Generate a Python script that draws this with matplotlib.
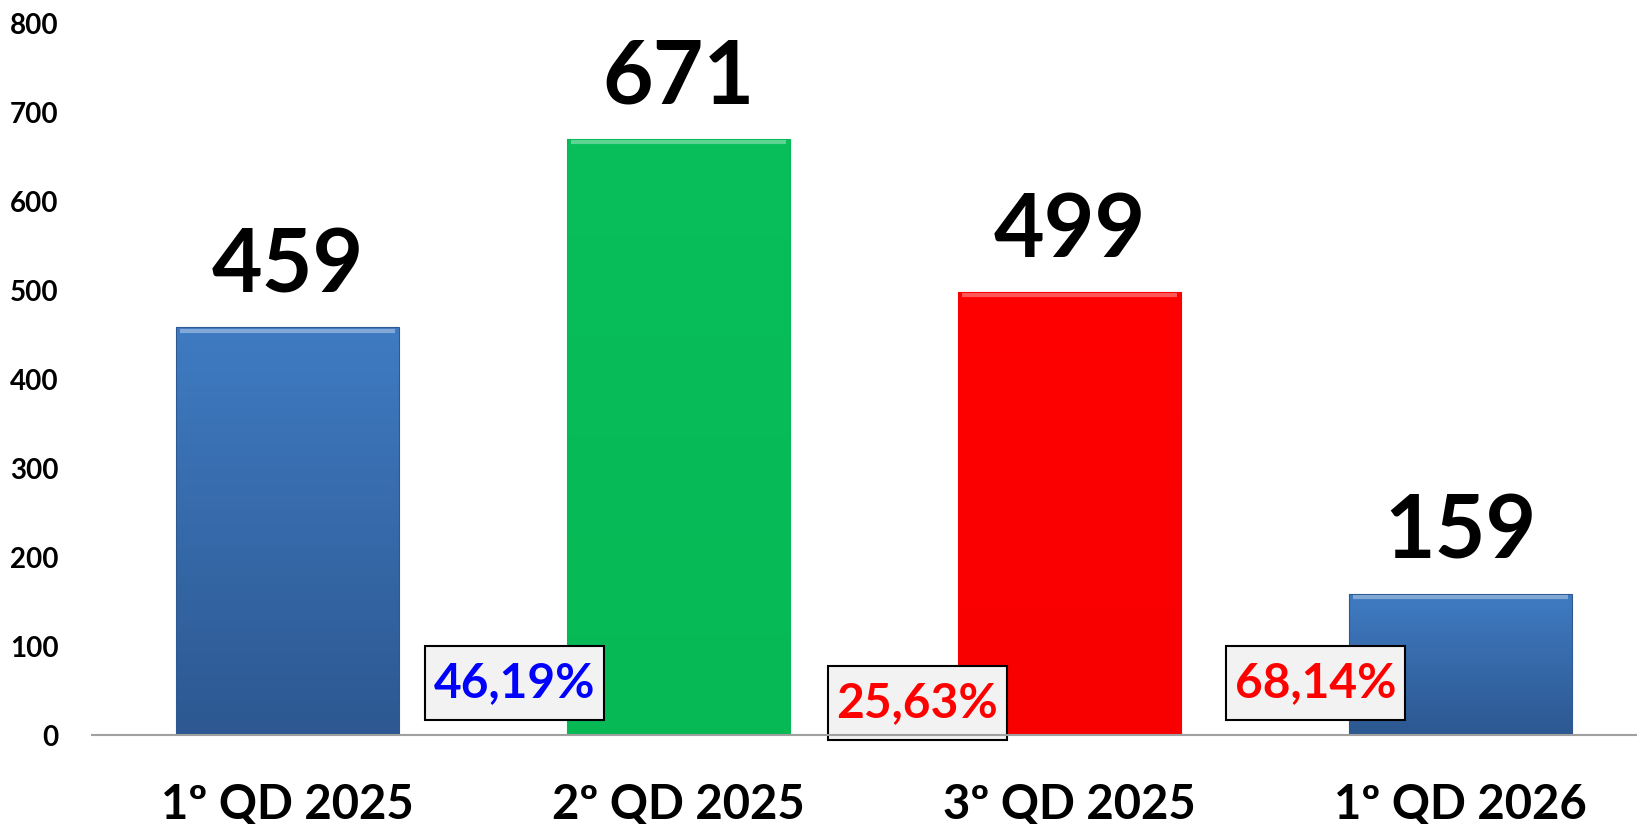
import matplotlib
matplotlib.use("Agg")
import matplotlib.pyplot as plt
import numpy as np
from matplotlib.colors import LinearSegmentedColormap
from matplotlib.path import Path

plt.rcParams["font.family"] = ["Lato", "DejaVu Sans"]
plt.rcParams["font.weight"] = "bold"

# dados
categories = ["1º QD 2025", "2º QD 2025", "3º QD 2025", "1º QD 2026"]
values = [459, 671, 499, 159]
bar_top_colors = ["#3F7BC2", "#08BF5B", "#FF0000", "#3F7BC2"]
bar_bottom_colors = ["#2D5891", "#06B955", "#F80000", "#2D5891"]
pct_values = [46.19, 25.63, 68.14]
pct_colors = ["#0000FF", "#FF0000", "#FF0000"]
y_ticks = [0, 100, 200, 300, 400, 500, 600, 700, 800]

# posição das caixas de variação (entre as barras)
pct_x = [0.58, 1.61, 2.63]
pct_y = [58.5, 36, 58.5]


def pct_box(x0, y0, width, height, mutation_size):
    # caixa com mais folga na vertical do que na horizontal
    px, py = 0.18 * mutation_size, 0.31 * mutation_size
    return Path([(x0 - px, y0 - py), (x0 + width + px, y0 - py),
                 (x0 + width + px, y0 + height + py), (x0 - px, y0 + height + py),
                 (x0 - px, y0 - py)], closed=True)


W, H = 1637, 824
fig = plt.figure(figsize=(W / 100, H / 100), dpi=100)
ax = fig.add_axes([92 / W, 89 / H, 1564 / W, 711 / H])

x = np.arange(len(categories))
bars = ax.bar(x, values, width=0.57, color="none", lw=0.8, zorder=3)

# gradiente vertical em cada barra
grad = np.linspace(1, 0, 256).reshape(-1, 1)
for b, ctop, cbot in zip(bars, bar_top_colors, bar_bottom_colors):
    cmap = LinearSegmentedColormap.from_list("g", [cbot, ctop])
    x0, w, h = b.get_x(), b.get_width(), b.get_height()
    im = ax.imshow(grad, cmap=cmap, aspect="auto", extent=[x0, x0 + w, 0, h],
                   zorder=2, origin="upper")
    im.set_clip_path(b)
    # brilho no topo (efeito bisel)
    ax.plot([x0 + 0.01, x0 + w - 0.01], [h - 4, h - 4], color="white", alpha=0.35,
            lw=3, zorder=4, solid_capstyle="butt")
    b.set_edgecolor(cbot)

for xi, v in zip(x, values):
    ax.annotate(str(v), (xi, v), xytext=(0, 25), textcoords="offset points",
                ha="center", va="baseline", fontsize=63, fontweight="bold", color="black")

for px, py, pv, pc in zip(pct_x, pct_y, pct_values, pct_colors):
    label = f"{pv:.2f}%".replace(".", ",")
    ax.text(px, py, label, ha="center", va="center", fontsize=34.5, fontweight="bold",
            color=pc, zorder=5,
            bbox=dict(boxstyle=pct_box, facecolor="#F2F2F2",
                      edgecolor="black", lw=1.5))

ax.set_xlim(-0.5, 3.5)
ax.set_ylim(0, 800)
ax.set_yticks(y_ticks)
ax.set_yticklabels([str(t) for t in y_ticks], fontsize=20, fontweight="bold")
ax.set_xticks(x)
ax.set_xticklabels(categories, fontsize=34, fontweight="bold")
ax.tick_params(axis="y", length=0, pad=24)
ax.tick_params(axis="x", length=0, pad=34)
for s in ["top", "right", "left"]:
    ax.spines[s].set_visible(False)
ax.spines["bottom"].set_color("#A0A0A0")
ax.spines["bottom"].set_linewidth(1.5)
ax.spines["bottom"].set_zorder(6)

fig.savefig("out.png", dpi=100)
